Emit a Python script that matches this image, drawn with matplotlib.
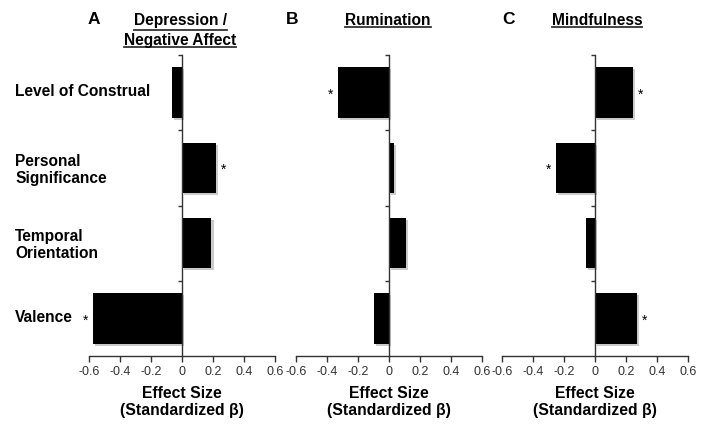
import matplotlib
matplotlib.use("Agg")
import matplotlib.pyplot as plt
import matplotlib.patheffects as pe
from matplotlib.lines import Line2D

plt.rcParams['font.family'] = ['Liberation Sans', 'DejaVu Sans']

categories = ["Level of Construal", "Personal\nSignificance", "Temporal\nOrientation", "Valence"]
panel_letters = ["A", "B", "C"]
panel_titles = ["Depression /\nNegative Affect", "Rumination", "Mindfulness"]
depression = [-0.065, 0.22, 0.19, -0.575]
rumination = [-0.33, 0.03, 0.11, -0.10]
mindfulness = [0.245, -0.25, -0.06, 0.27]
significant = [[False, True, False, True],
               [True, False, False, False],
               [True, True, False, True]]
xticks = [-0.6, -0.4, -0.2, 0, 0.2, 0.4, 0.6]
xtick_labels = ["-0.6", "-0.4", "-0.2", "0", "0.2", "0.4", "0.6"]
xlabel = "Effect Size\n(Standardized \u03b2)"

series = [depression, rumination, mindfulness]

W, H = 707, 433
fig = plt.figure(figsize=(W / 100, H / 100), dpi=100)

lefts = [89, 296, 502]
ax_w = 186
top_px, bot_px = 55, 356
ypos = [3, 2, 1, 0]
grey = "#333333"

for i in range(3):
    ax = fig.add_axes([lefts[i] / W, 1 - bot_px / H, ax_w / W, (bot_px - top_px) / H])
    vals = series[i]
    bars = ax.barh(ypos, vals, height=0.67, color="black", zorder=3)
    for b in bars:
        b.set_path_effects([pe.SimplePatchShadow(offset=(1.5, -1.5), shadow_rgbFace="#999999", alpha=0.5), pe.Normal()])
    ax.set_xlim(-0.6, 0.6)
    ax.set_ylim(-0.5, 3.5)
    for s in ["top", "right"]:
        ax.spines[s].set_visible(False)
    ax.spines["left"].set_position(("data", 0))
    ax.spines["left"].set_color(grey)
    ax.spines["left"].set_linewidth(1.0)
    ax.spines["bottom"].set_color(grey)
    ax.spines["bottom"].set_linewidth(1.0)
    ax.spines["left"].set_zorder(4)
    ax.set_yticks([3.5, 2.5, 1.5, 0.5])
    ax.set_yticklabels([])
    ax.tick_params(axis="y", length=3, width=1, color=grey, direction="out")
    ax.set_xticks(xticks)
    ax.set_xticklabels(xtick_labels)
    ax.tick_params(axis="x", length=4, width=1, color=grey, labelsize=9, labelcolor=grey, pad=3)
    ax.patch.set_alpha(0)
    for v, y, sig in zip(vals, ypos, significant[i]):
        if sig:
            off = 0.03 if v > 0 else -0.03
            ax.text(v + off, y - 0.03, "*", ha="left" if v > 0 else "right", va="center",
                    fontsize=10, color="black")
    ax.set_xlabel(xlabel, fontsize=11.3, fontweight="bold", labelpad=6, linespacing=1.2)

# category labels
cat_y = [92, 170, 245, 317]
for c, y in zip(categories, cat_y):
    fig.text(15 / W, 1 - y / H, c, ha="left", va="center", fontsize=11.2, fontweight="bold", linespacing=1.25)

# panel letters and titles
letter_x = [94, 292, 508]
title_x = [180, 388, 597]
title_fs = 11.2
title_objs = []
for i in range(3):
    fig.text(letter_x[i] / W, 1 - 20 / H, panel_letters[i], ha="center", va="center", fontsize=12.5, fontweight="bold")
    t = fig.text(title_x[i] / W, 1 - 13 / H, panel_titles[i], ha="center", va="top", fontsize=title_fs,
                 fontweight="bold", linespacing=1.45)
    title_objs.append(t)

fig.canvas.draw()
renderer = fig.canvas.get_renderer()
for t in title_objs:
    lines = t.get_text().split("\n")
    bb = t.get_window_extent(renderer)
    n = len(lines)
    lh = bb.height / n
    for k, line in enumerate(lines):
        tmp = fig.text(0, 0, line, fontsize=title_fs, fontweight="bold")
        w = tmp.get_window_extent(renderer).width
        tmp.remove()
        cx = (bb.x0 + bb.x1) / 2
        ybase = bb.y1 - (k + 1) * lh + 1
        fig.add_artist(Line2D([(cx - w / 2) / W, (cx + w / 2) / W], [ybase / H, ybase / H],
                              transform=fig.transFigure, color="#333333", lw=1.3))

fig.savefig("out.png", dpi=100)
